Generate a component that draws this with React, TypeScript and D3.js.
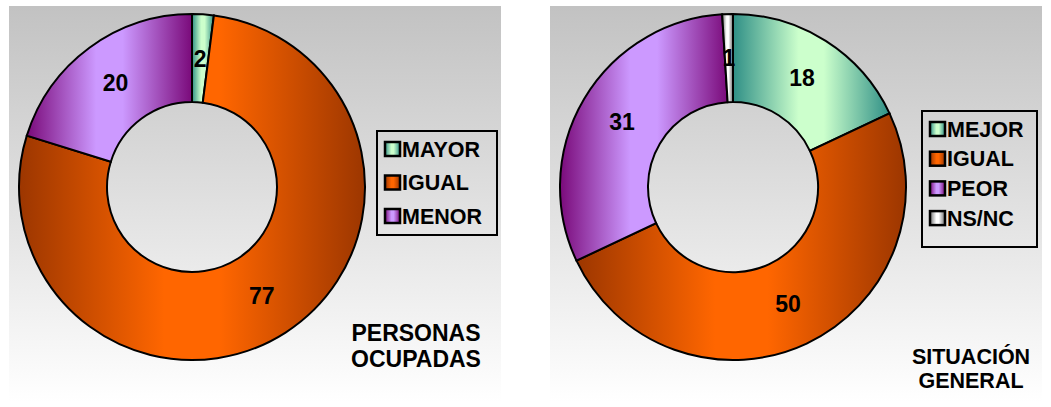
import React from 'react';
import * as d3 from 'd3';

// chart data
const leftLabels = ['MAYOR', 'IGUAL', 'MENOR'];
const leftValues = [2, 77, 20];
const leftTitle = ['PERSONAS', 'OCUPADAS'];

const rightLabels = ['MEJOR', 'IGUAL', 'PEOR', 'NS/NC'];
const rightValues = [18, 50, 31, 1];
const rightTitle = ['SITUACIÓN', 'GENERAL'];

// edge / centre colours for each slice gradient
const leftColors = [
  ['#2f8f86', '#ccffcc'],
  ['#9c3600', '#ff6600'],
  ['#7a0a7a', '#cc99ff'],
];
const rightColors = [
  ['#2f8f86', '#ccffcc'],
  ['#9c3600', '#ff6600'],
  ['#7a0a7a', '#cc99ff'],
  ['#707070', '#ffffff'],
];

const W = 1051;
const H = 407;
const FONT = '"Liberation Sans", Arial, sans-serif';

type PanelProps = {
  id: string;
  x0: number;
  labels: string[];
  values: number[];
  colors: string[][];
  title: string[];
  legend: { x: number; y: number; w: number; h: number; step: number };
  titleX: number;
  titleY: number;
  titleGap: number;
  titleSize: number;
};

const Panel = ({ id, x0, labels, values, colors, title, legend, titleX, titleY, titleGap, titleSize }: PanelProps) => {
  const cx = x0 + 183;
  const cy = 187;
  const outer = 173;
  const inner = 85;

  const pie = d3.pie<number>().sort(null).value(d => d);
  const arcs = pie(values);
  const arc = d3.arc<d3.PieArcDatum<number>>().innerRadius(inner).outerRadius(outer);
  const labelArc = d3.arc<d3.PieArcDatum<number>>()
    .innerRadius((inner + outer) / 2)
    .outerRadius((inner + outer) / 2);

  return (
    <g>
      <defs>
        <linearGradient id={`${id}-bg`} x1="0" y1="0" x2="0" y2="1">
          <stop offset="0" stopColor="#c2c2c2" />
          <stop offset="1" stopColor="#ffffff" />
        </linearGradient>
        {colors.map((c, i) => (
          <linearGradient key={i} id={`${id}-g${i}`} x1="0" y1="0" x2="1" y2="0">
            <stop offset="0" stopColor={c[0]} />
            <stop offset="0.42" stopColor={c[1]} />
            <stop offset="0.58" stopColor={c[1]} />
            <stop offset="1" stopColor={c[0]} />
          </linearGradient>
        ))}
      </defs>
      <rect x={x0} y={6} width={492} height={396} fill={`url(#${id}-bg)`} />
      <g transform={`translate(${cx},${cy})`}>
        {arcs.map((a, i) => (
          <path key={i} d={arc(a) || ''} fill={`url(#${id}-g${i})`} stroke="#000" strokeWidth={2} />
        ))}
        {arcs.map((a, i) => {
          const [lx, ly] = labelArc.centroid(a);
          return (
            <text key={i} x={lx} y={ly} dy="0.36em" textAnchor="middle"
              fontFamily={FONT} fontWeight="bold" fontSize={23} fill="#000">
              {a.data}
            </text>
          );
        })}
      </g>
      <rect x={legend.x} y={legend.y} width={legend.w} height={legend.h}
        fill="none" stroke="#000" strokeWidth={2} />
      {labels.map((l, i) => {
        const yy = legend.y + 18 + i * legend.step;
        return (
          <g key={l}>
            <rect x={legend.x + 8} y={yy - 7} width={15} height={14}
              fill={`url(#${id}-g${i})`} stroke="#000" strokeWidth={2.5} />
            <text x={legend.x + 25} y={yy} dy="0.36em" fontFamily={FONT}
              fontWeight="bold" fontSize={21.5} fill="#000">{l}</text>
          </g>
        );
      })}
      {title.map((t, i) => (
        <text key={t} x={titleX} y={titleY + i * titleGap} textAnchor="middle"
          fontFamily={FONT} fontWeight="bold" fontSize={titleSize} fill="#000">{t}</text>
      ))}
    </g>
  );
};

export default function App() {
  return (
    <svg width={W} height={H} style={{ position: 'absolute', left: 0, top: 0, background: '#fff' }}>
      <Panel id="p1" x0={9} labels={leftLabels} values={leftValues} colors={leftColors}
        title={leftTitle}
        legend={{ x: 377, y: 131, w: 120, h: 104, step: 33.5 }}
        titleX={416} titleY={341} titleGap={26} titleSize={23} />
      <Panel id="p2" x0={550} labels={rightLabels} values={rightValues} colors={rightColors}
        title={rightTitle}
        legend={{ x: 922, y: 111, w: 115, h: 136, step: 29.7 }}
        titleX={971} titleY={364} titleGap={24} titleSize={21.5} />
    </svg>
  );
}
